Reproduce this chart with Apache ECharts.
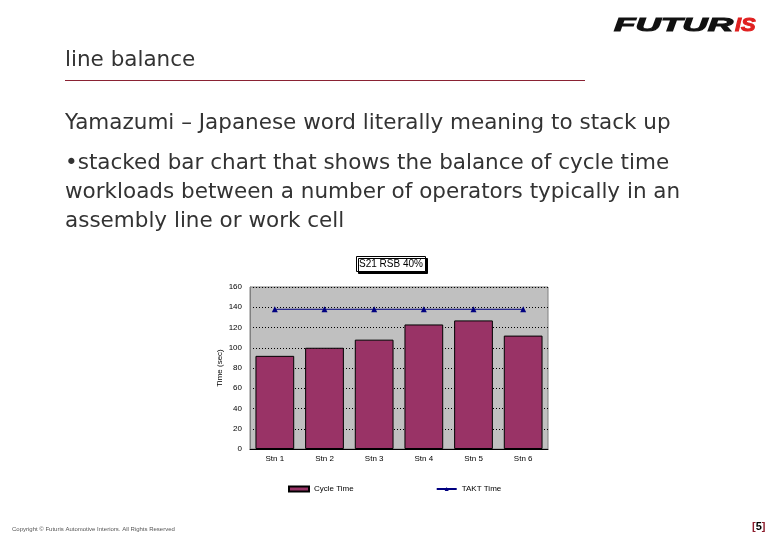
<!DOCTYPE html>
<html><head><meta charset="utf-8">
<script src="https://cdn.jsdelivr.net/npm/echarts@6/dist/echarts.min.js"></script>
<style>html,body{margin:0;padding:0;background:#fff}#c{width:780px;height:540px}</style>
</head><body><div id="c"></div>
<script>
const categories = ['Stn 1','Stn 2','Stn 3','Stn 4','Stn 5','Stn 6'];
const cycleTime = [92, 100, 108, 123, 127, 112];
const taktTime = [138, 138, 138, 138, 138, 138];
const yTicks = [0, 20, 40, 60, 80, 100, 120, 140, 160];
const chartTitle = 'S21 RSB 40%';
const slideTitle = 'line balance';
const slideLines = ['Yamazumi \u2013 Japanese word literally meaning to stack up',
  '\u2022stacked bar chart that shows the balance of cycle time',
  'workloads between a number of operators typically in an',
  'assembly line or work cell'];

const chart = echarts.init(document.getElementById('c'), null, {renderer:'canvas'});
const bodyFont = '"DejaVu Sans", sans-serif';
const small = 'Arial, "Liberation Sans", sans-serif';
const logoFont = 'italic bold 19px "Liberation Sans", Arial, sans-serif';
const option = {
  animation:false,
  backgroundColor:'#fff',
  title:{
    text:chartTitle, left:356, top:256,
    textStyle:{fontFamily:small, fontSize:10, fontWeight:'normal', color:'#000'},
    padding:[3,3,3,3], borderColor:'#000', borderWidth:1, backgroundColor:'#fff',
    shadowColor:'#000', shadowOffsetX:2, shadowOffsetY:2, shadowBlur:0
  },
  legend:{
    left:288, top:485, padding:0, itemWidth:20, itemHeight:5, itemGap:82,
    textStyle:{fontFamily:small, fontSize:8, color:'#000'},
    data:[{name:'Cycle Time', icon:'rect'},{name:'TAKT Time'}]
  },
  grid:{left:250, top:287, width:298, height:162, show:true, backgroundColor:'#c0c0c0', borderColor:'#808080', borderWidth:1},
  xAxis:{type:'category', data:categories,
    axisLine:{lineStyle:{color:'#000'}}, axisTick:{show:false},
    axisLabel:{fontFamily:small, fontSize:8, color:'#000', margin:6}},
  yAxis:{type:'value', min:yTicks[0], max:yTicks[yTicks.length-1], interval:20,
    name:'Time (sec)', nameLocation:'middle', nameRotate:90, nameGap:26,
    nameTextStyle:{fontFamily:small, fontSize:8, color:'#000'},
    axisLine:{show:true, lineStyle:{color:'#808080'}}, axisTick:{show:false},
    axisLabel:{fontFamily:small, fontSize:8, color:'#000', margin:8},
    splitLine:{lineStyle:{color:'#000', type:[1,2], width:1}}},
  series:[
    {name:'Cycle Time', type:'bar', data:cycleTime, barWidth:'78%',
      itemStyle:{color:'#993366', borderColor:'#000', borderWidth:1}},
    {name:'TAKT Time', type:'line', data:taktTime, symbol:'triangle', symbolSize:6,
      lineStyle:{color:'#000080', width:1}, itemStyle:{color:'#000080'}}
  ],
  graphic:[
    {type:'text', left:65, top:49, style:{text:slideTitle, font:'21.5px '+bodyFont, fill:'#333'}},
    {type:'line', shape:{x1:65, y1:80.5, x2:585, y2:80.5}, style:{stroke:'#8a2233', lineWidth:1}},
    {type:'text', left:65, top:112, style:{text:slideLines[0], font:'21.5px '+bodyFont, fill:'#333'}},
    {type:'text', left:65, top:152, style:{text:slideLines[1], font:'21.5px '+bodyFont, fill:'#333'}},
    {type:'text', left:65, top:181, style:{text:slideLines[2], font:'21.5px '+bodyFont, fill:'#333'}},
    {type:'text', left:65, top:210, style:{text:slideLines[3], font:'21.5px '+bodyFont, fill:'#333'}},
    {type:'text', x:614, y:26, scaleX:1.85, style:{text:'FUTUR', font:logoFont, fill:'#111', stroke:'#111', lineWidth:1, verticalAlign:'middle'}},
    {type:'text', x:735, y:26, scaleX:1.15, style:{text:'iS', font:logoFont, fill:'#e02020', stroke:'#e02020', lineWidth:1, verticalAlign:'middle'}},
    {type:'text', left:12, top:526, style:{text:'Copyright \u00a9 Futuris Automotive Interiors. All Rights Reserved', font:'6px '+small, fill:'#555'}},
    {type:'text', left:752, top:521, style:{text:'{r|[}{b|5}{r|]}', rich:{r:{font:'bold 11px '+small, fill:'#8c1c2c'}, b:{font:'bold 11px '+small, fill:'#000'}}}}
  ]
};
chart.setOption(option);
</script></body></html>
